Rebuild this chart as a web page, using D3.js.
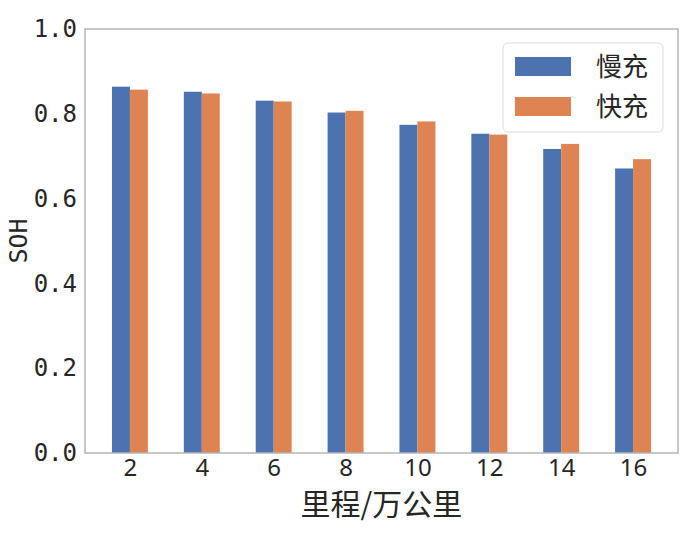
<!DOCTYPE html>
<html>
<head>
<meta charset="utf-8">
<script src="https://cdn.jsdelivr.net/npm/d3@7"></script>
<style>
  body { margin: 0; background: #fff; }
  text { fill: #262626; }
</style>
</head>
<body>
<script>
const mileage = [2, 4, 6, 8, 10, 12, 14, 16];
const slowCharge = [0.864, 0.852, 0.831, 0.803, 0.774, 0.753, 0.717, 0.671];
const fastCharge = [0.857, 0.848, 0.829, 0.807, 0.782, 0.751, 0.729, 0.693];
const seriesNames = ["慢充", "快充"];
const seriesColors = ["#4c72b0", "#dd8452"];
const yTicks = [0, 0.2, 0.4, 0.6, 0.8, 1.0];

let width = 690, height = 536;
let margin = {left: 85, top: 29, right: 12, bottom: 83};
let barW = 0.25;

let x = d3.scaleLinear().domain([-0.625, mileage.length - 1 + 0.625]).range([margin.left, width - margin.right]);
let y = d3.scaleLinear().domain([0, 1]).range([height - margin.bottom, margin.top]);

const svg = d3.select("body").append("svg")
    .attr("width", width)
    .attr("height", height);

// bars, one group per series
let series = [slowCharge, fastCharge];
series.forEach((vals, s) => {
    svg.append("g").selectAll("rect")
        .data(vals)
        .enter()
        .append("rect")
        .attr("x", (d, i) => x(i + (s - 1) * barW))
        .attr("width", (d, i) => x(i + barW) - x(i))
        .attr("y", d => y(d))
        .attr("height", d => y(0) - y(d))
        .style("fill", seriesColors[s]);
});

// frame
svg.append("rect")
    .attr("x", margin.left)
    .attr("y", margin.top)
    .attr("width", width - margin.left - margin.right)
    .attr("height", height - margin.top - margin.bottom)
    .style("fill", "none")
    .style("stroke", "#b5b5b5")
    .style("stroke-width", 1.5);

// y axis
let yAxis = d3.axisLeft(y).tickValues(yTicks).tickFormat(d3.format(".1f")).tickSize(0).tickPadding(8);
let gy = svg.append("g")
    .attr("transform", `translate(${margin.left},0)`)
    .call(yAxis);
gy.select(".domain").remove();
gy.selectAll("text")
    .style("font-family", "'DejaVu Sans Mono', monospace")
    .style("font-size", "24px")
    .style("fill", "#262626");

// x axis
let xAxis = d3.axisBottom(x).tickValues(d3.range(mileage.length)).tickFormat(i => mileage[i]).tickSize(0).tickPadding(6);
let gx = svg.append("g")
    .attr("transform", `translate(0,${height - margin.bottom})`)
    .call(xAxis);
gx.select(".domain").remove();
gx.selectAll("text")
    .style("font-family", "'Noto Sans', sans-serif")
    .style("font-size", "24px")
    .style("fill", "#262626");

// axis titles
svg.append("text")
    .attr("transform", `translate(27,${y(0.5)}) rotate(-90)`)
    .style("text-anchor", "middle")
    .style("font-family", "'DejaVu Sans Mono', monospace")
    .style("font-size", "25px")
    .text("SOH");

svg.append("text")
    .attr("x", x((mileage.length - 1) / 2))
    .attr("y", 515)
    .style("text-anchor", "middle")
    .style("font-family", "'Noto Sans CJK SC', sans-serif")
    .style("font-size", "30px")
    .text("里程/万公里");

// legend
let legend = svg.append("g").attr("id", "legend");
legend.append("rect")
    .attr("x", 503).attr("y", 43)
    .attr("width", 160).attr("height", 89)
    .attr("rx", 5)
    .style("fill", "#fff")
    .style("fill-opacity", 0.85)
    .style("stroke", "#dcdcdc");

let items = legend.selectAll(".legend-items")
    .data(seriesNames)
    .enter()
    .append("g")
    .attr("class", "legend-items")
    .attr("transform", (d, i) => `translate(515,${57 + i * 40})`);

items.append("rect")
    .attr("width", 56)
    .attr("height", 19)
    .style("fill", (d, i) => seriesColors[i]);

items.append("text")
    .attr("x", 81)
    .attr("y", 10)
    .attr("dy", "0.36em")
    .style("font-family", "'Noto Sans CJK SC', sans-serif")
    .style("font-size", "26px")
    .text(d => d);
</script>
</body>
</html>
